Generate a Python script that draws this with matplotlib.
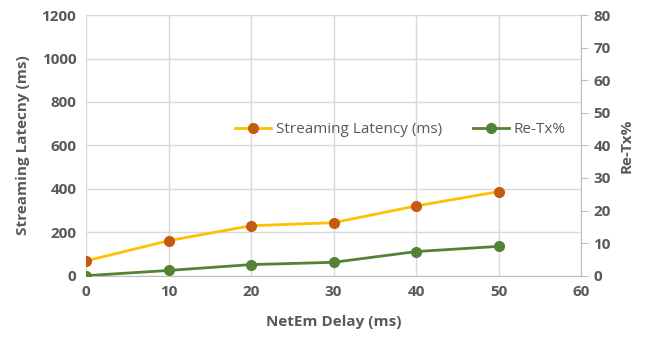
import matplotlib.pyplot as plt
from matplotlib import rcParams
rcParams['font.family'] = ['Open Sans', 'DejaVu Sans']

delay = [0, 10, 20, 30, 40, 50]
latency = [68, 161, 230, 244, 321, 387]
retx = [0.0, 1.6, 3.4, 4.1, 7.4, 9.0]

grey = '#595959'
grid_col = '#d9d9d9'

fig = plt.figure(figsize=(6.47, 3.37), dpi=100)
ax = fig.add_axes([0.133, 0.182, 0.765, 0.773])
ax2 = ax.twinx()

# latency on the left axis, re-tx on the right one
l1, = ax.plot(delay, latency, color='#FFC000', lw=2, marker='o', ms=7,
              mfc='#C55A11', mec='#C55A11', label='Streaming Latency (ms)', zorder=3)
l2, = ax2.plot(delay, retx, color='#548235', lw=2, marker='o', ms=7,
               mfc='#548235', mec='#548235', label='Re-Tx%', zorder=3)

ax.set_xlim(0, 60)
ax.set_ylim(0, 1200)
ax2.set_ylim(0, 80)
ax.set_xticks(range(0, 61, 10))
ax.set_yticks(range(0, 1201, 200))
ax2.set_yticks(range(0, 81, 10))

ax.grid(True, color=grid_col, lw=1)
ax.set_axisbelow(True)
for s in ['top', 'left', 'right']:
    ax.spines[s].set_visible(False)
for s in ['top', 'left', 'bottom']:
    ax2.spines[s].set_visible(False)
ax.spines['bottom'].set_color('#bfbfbf')
ax2.spines['right'].set_color('#bfbfbf')

ax.tick_params(axis='both', length=0, labelsize=11, labelcolor=grey, pad=7)
ax2.tick_params(axis='y', length=5, color='#bfbfbf', labelsize=11, labelcolor=grey, pad=4)
for lab in ax.get_xticklabels() + ax.get_yticklabels() + ax2.get_yticklabels():
    lab.set_fontweight('bold')

ax.set_xlabel('NetEm Delay (ms)', fontsize=11, fontweight='bold', color=grey, labelpad=11)
ax.set_ylabel('Streaming Latecny (ms)', fontsize=11, fontweight='bold', color=grey, labelpad=8)
ax2.set_ylabel('Re-Tx%', fontsize=11, fontweight='bold', color=grey, labelpad=6)

leg = ax.legend(handles=[l1, l2], loc='center', bbox_to_anchor=(0.635, 0.56), ncol=2,
                frameon=False, fontsize=11, handlelength=2.4, columnspacing=2.0,
                handletextpad=0.3)
for t in leg.get_texts():
    t.set_color(grey)

plt.savefig('out.png', dpi=100)
